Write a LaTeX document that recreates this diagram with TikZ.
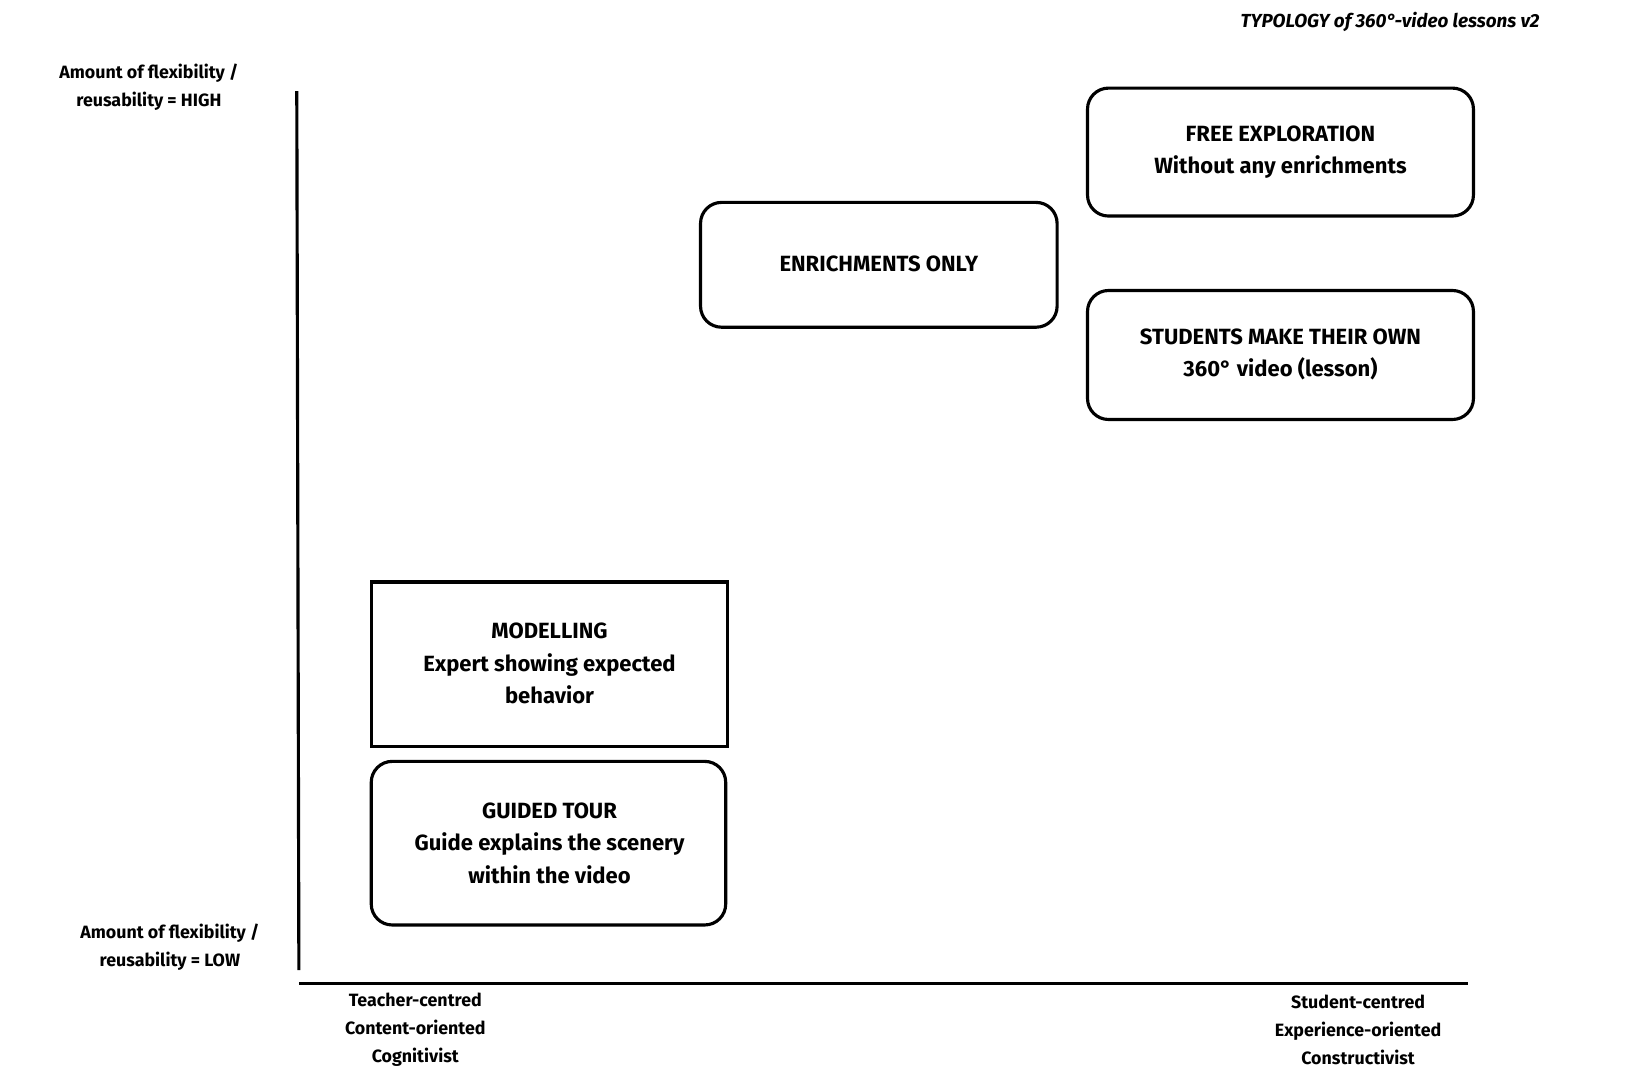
\documentclass[tikz,border=0pt]{standalone}
\usepackage{fontspec}
\setmainfont{Fira Sans}
\begin{document}
\begin{tikzpicture}[x=0.5pt,y=-0.5pt,
  bx/.style={draw,line width=1.5pt,rounded corners=10pt},
  bt/.style={font=\bfseries\fontsize{10.5}{15.5}\selectfont,align=center},
  lb/.style={font=\bfseries\fontsize{8.5}{13.5}\selectfont,align=center}]
\useasboundingbox (0,0) rectangle (1560,1029);
\node[font=\bfseries\itshape\fontsize{9}{12}\selectfont,anchor=east] (title) at (1475,21) {TYPOLOGY of 360°-video lessons v2};
\draw[bx] (1037,84) rectangle (1405,206);
\node[bt] (fe) at (1221,145) {FREE EXPLORATION\\Without any enrichments};
\draw[bx] (668,193) rectangle (1008,312);
\node[bt] (eo) at (838,252) {ENRICHMENTS ONLY};
\draw[bx] (1037,277) rectangle (1405,400);
\node[bt] (sm) at (1221,338) {STUDENTS MAKE THEIR OWN\\360° video (lesson)};
\draw[line width=1.5pt] (354,555) rectangle (694,712);
\node[bt] (mo) at (524,633) {MODELLING\\Expert showing expected\\behavior};
\draw[bx] (354,726) rectangle (692,882);
\node[bt] (gt) at (524,804) {GUIDED TOUR\\Guide explains the scenery\\within the video};
\coordinate (ya) at (283,87); \coordinate (yb) at (285,925);
\coordinate (xa) at (285,938); \coordinate (xb) at (1400,938);
\draw[line width=1.5pt] (ya) -- (yb);
\draw[line width=1.5pt] (xa) -- (xb);
\node[lb] (hi) at (142,83) {Amount of flexibility /\\reusability = HIGH};
\node[lb] (lo) at (162,903) {Amount of flexibility /\\reusability = LOW};
\node[lb] (tc) at (396,982) {Teacher-centred\\Content-oriented\\Cognitivist};
\node[lb] (sc) at (1295,982) {Student-centred\\Experience-oriented\\Constructivist};
\end{tikzpicture}
\end{document}
